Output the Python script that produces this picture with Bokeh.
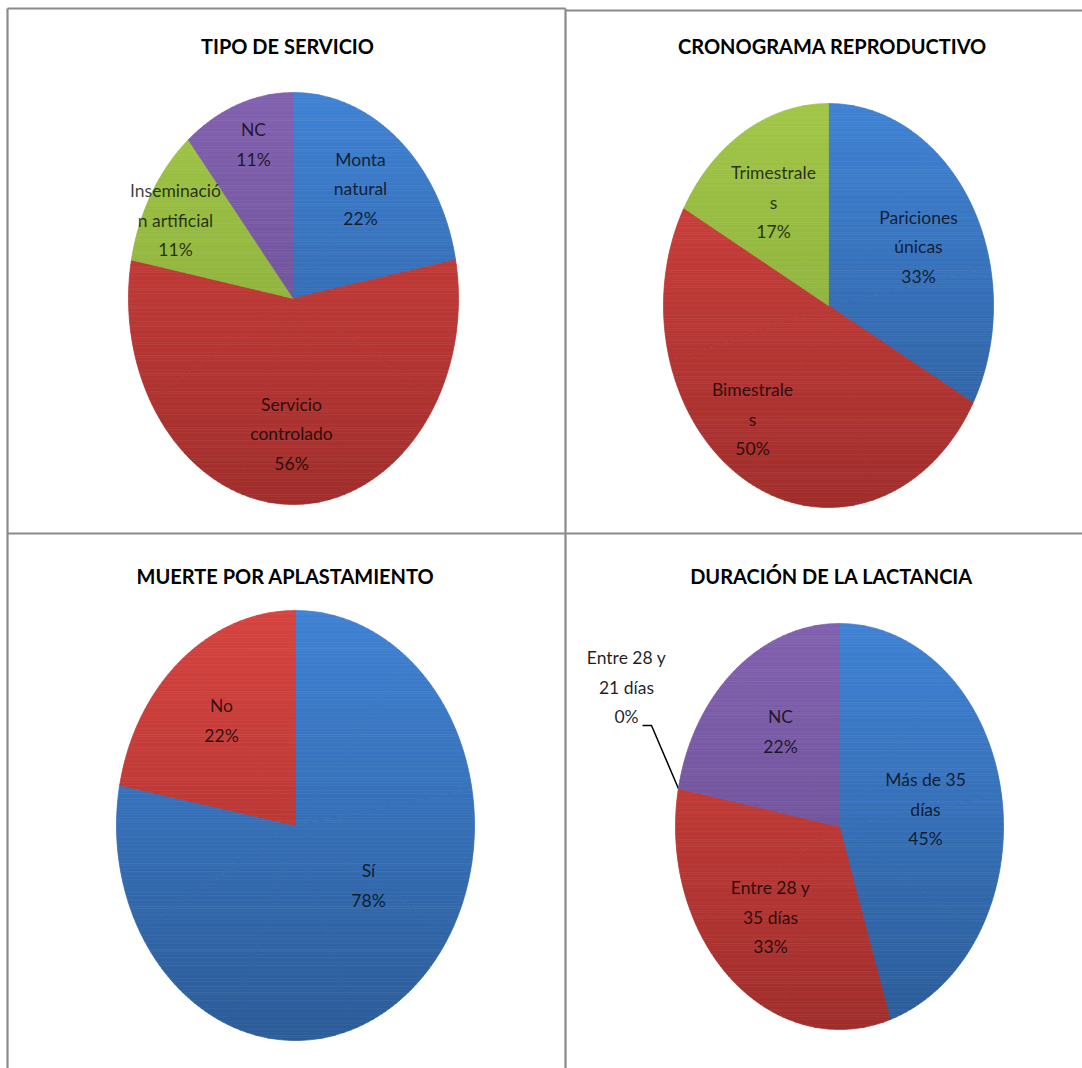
import numpy as np
from bokeh.plotting import figure
from bokeh.models import Range1d, ColumnDataSource
from bokeh.core.properties import value
from bokeh.embed import file_html
from bokeh.resources import INLINE

# ---------------- data ----------------
titles = ["TIPO DE SERVICIO", "CRONOGRAMA REPRODUCTIVO",
          "MUERTE POR APLASTAMIENTO", "DURACIÓN DE LA LACTANCIA"]

servicio_cats = ["Monta natural", "Servicio controlado", "Inseminación artificial", "NC"]
servicio_vals = [22, 56, 11, 11]

crono_cats = ["Pariciones únicas", "Bimestrales", "Trimestrales"]
crono_vals = [33, 50, 17]

muerte_cats = ["Sí", "No"]
muerte_vals = [78, 22]

lact_cats = ["Más de 35 días", "Entre 28 y 35 días", "Entre 28 y 21 días", "NC"]
lact_vals = [45, 33, 0, 22]

# label wrapping as shown in the chart (text only)
servicio_wrap = [["Monta", "natural"], ["Servicio", "controlado"], ["Inseminació", "n artificial"], ["NC"]]
crono_wrap = [["Pariciones", "únicas"], ["Bimestrale", "s"], ["Trimestrale", "s"]]
muerte_wrap = [["Sí"], ["No"]]
lact_wrap = [["Más de 35", "días"], ["Entre 28 y", "35 días"], ["Entre 28 y", "21 días"], ["NC"]]

# ---------------- styles / layout ----------------
BLUE = ((64, 130, 212), (44, 92, 152))
RED = ((214, 68, 64), (160, 46, 44))
GREEN = ((162, 198, 72), (128, 164, 54))
PURPLE = ((130, 98, 176), (100, 72, 140))

panels = [
    dict(title=titles[0], tx=287, ty=45, cx=293, cy=298, rx=165, ry=206,
         vals=servicio_vals, wrap=servicio_wrap, colors=[BLUE, RED, GREEN, PURPLE],
         lab=[(360, 188), (291, 433), (175, 219.5), (253, 144)], inside=[1, 1, 1, 1]),
    dict(title=titles[1], tx=832, ty=45, cx=828, cy=305, rx=165, ry=202,
         vals=crono_vals, wrap=crono_wrap, colors=[BLUE, RED, GREEN],
         lab=[(918, 246), (752, 418.5), (773, 201.5)], inside=[1, 1, 1]),
    dict(title=titles[2], tx=285, ty=575, cx=295, cy=825, rx=179, ry=215,
         vals=muerte_vals, wrap=muerte_wrap, colors=[BLUE, RED],
         lab=[(368, 885), (221, 720)], inside=[1, 1]),
    dict(title=titles[3], tx=831, ty=575, cx=839, cy=826, rx=164, ry=203,
         vals=lact_vals, wrap=lact_wrap, colors=[BLUE, RED, GREEN, PURPLE],
         lab=[(925, 808.5), (770, 916.5), (626, 686.5), (780, 731)], inside=[1, 1, 0, 1],
         leader=(642, 651, 725)),
]

LINE_H = 29.5
FONT = "Lato"
N_BANDS = 160

W, H = 1082, 1068
p = figure(width=W, height=H, x_range=Range1d(0, W), y_range=Range1d(H, 0),
           output_backend="svg", toolbar_location=None, min_border=0)
p.axis.visible = False
p.grid.visible = False
p.outline_line_color = None
p.background_fill_color = "white"
p.border_fill_color = "white"


def mix(c0, c1, t):
    r = [int(round(c0[i] + (c1[i] - c0[i]) * t)) for i in range(3)]
    return "#%02x%02x%02x" % tuple(r)


def clip_y(pts, yb, keep_ge):
    out = []
    n = len(pts)
    for i in range(n):
        cur, prev = pts[i], pts[i - 1]
        cin = cur[1] >= yb if keep_ge else cur[1] <= yb
        pin = prev[1] >= yb if keep_ge else prev[1] <= yb
        if cin:
            if not pin:
                t = (yb - prev[1]) / (cur[1] - prev[1])
                out.append((prev[0] + t * (cur[0] - prev[0]), yb))
            out.append(cur)
        elif pin:
            t = (yb - prev[1]) / (cur[1] - prev[1])
            out.append((prev[0] + t * (cur[0] - prev[0]), yb))
    return out


band_xs, band_ys, band_col = [], [], []
txt_x, txt_y, txt_s, txt_a = [], [], [], []

for pn in panels:
    vals = np.array(pn["vals"], dtype=float)
    fr = vals / vals.sum()
    cum = np.concatenate([[0], np.cumsum(fr)])
    cx, cy, rx, ry = pn["cx"], pn["cy"], pn["rx"], pn["ry"]
    top, bot = cy - ry, cy + ry
    edges = np.linspace(top, bot, N_BANDS + 1)
    for i, f in enumerate(fr):
        if f <= 0:
            continue
        c0, c1 = pn["colors"][i]
        # split into convex sub-wedges (<= 1/8 turn each)
        nsub = int(np.ceil(f * 8))
        subs = np.linspace(cum[i], cum[i + 1], nsub + 1)
        for s0, s1 in zip(subs[:-1], subs[1:]):
            n = max(4, int(np.ceil((s1 - s0) * 360)))
            a = np.linspace(s0, s1, n) * 2 * np.pi
            poly = [(cx, cy)] + list(zip(cx + rx * np.sin(a), cy - ry * np.cos(a)))
            for k in range(N_BANDS):
                y0, y1 = edges[k], edges[k + 1]
                q = clip_y(poly, y0, True)
                if len(q) < 3:
                    continue
                q = clip_y(q, y1, False)
                if len(q) < 3:
                    continue
                col = mix(c0, c1, (k + 0.5) / N_BANDS)
                band_xs.append([pt[0] for pt in q])
                band_ys.append([pt[1] for pt in q])
                band_col.append(col)
    # labels
    for i, f in enumerate(fr):
        lines = pn["wrap"][i] + ["%d%%" % pn["vals"][i]]
        lx, ly = pn["lab"][i]
        m = len(lines)
        for j, s in enumerate(lines):
            txt_x.append(lx)
            txt_y.append(ly + (j - (m - 1) / 2) * LINE_H)
            txt_s.append(s)
            txt_a.append(0.75 if pn["inside"][i] else 0.88)
    # leader line for zero slice
    if "leader" in pn:
        zi = [i for i, f in enumerate(fr) if f <= 0][0]
        ang = cum[zi] * 2 * np.pi
        ex, ey = cx + rx * np.sin(ang), cy - ry * np.cos(ang)
        xa, xb, yl = pn["leader"]
        p.line([xa, xb, ex], [yl, yl, ey], line_color="black", line_width=1.5)

p.patches(band_xs, band_ys, fill_color=band_col, line_color=band_col, line_width=0.7)

# panel borders
bx0 = [7, 565, 7, 565, 7]
by0 = [8, 8, 8, 10, 533]
bx1 = [7, 565, 565, 1082, 1082]
by1 = [1068, 1068, 8, 10, 533]
p.segment(bx0, by0, bx1, by1, line_color="#8a8a8a", line_width=2.2)

src = ColumnDataSource(dict(x=txt_x, y=txt_y, t=txt_s, a=txt_a))
p.text(x="x", y="y", text="t", source=src, text_font=value(FONT), text_font_size="17.5px",
       text_align="center", text_baseline="middle", text_color="black", text_alpha="a")

p.text(x=[pn["tx"] for pn in panels], y=[pn["ty"] for pn in panels],
       text=[pn["title"] for pn in panels], text_font=value(FONT), text_font_size="20px",
       text_font_style="bold", text_align="center", text_baseline="middle", text_color="black")

open("out.html", "w").write(file_html(p, INLINE))
